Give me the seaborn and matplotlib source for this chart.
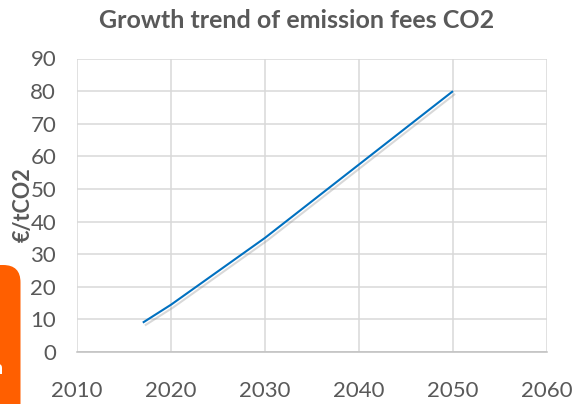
import matplotlib
matplotlib.use("Agg")
import matplotlib.pyplot as plt
import matplotlib.patheffects as pe
from matplotlib.patches import FancyBboxPatch
import pandas as pd
import seaborn as sns

# Emission fee trajectory (EUR per tonne CO2)
years = [2017, 2020, 2030, 2040, 2050]
fees = [9, 14.5, 35, 57.5, 80]

x_ticks = [2010, 2020, 2030, 2040, 2050, 2060]
y_ticks = [0, 10, 20, 30, 40, 50, 60, 70, 80, 90]

title = "Growth trend of emission fees CO2"
y_label = "€/tCO2"

sns.set_theme(style="white")
plt.rcParams["font.family"] = ["Lato", "DejaVu Sans"]

TEXT = "#595959"
GRID = "#D9D9D9"
LINE = "#0070C0"

df = pd.DataFrame({"year": years, "fee": fees})

fig = plt.figure(figsize=(5.77, 4.04), dpi=100)
ax = fig.add_axes([77 / 577, 1 - 352 / 404, (547 - 77) / 577, (352 - 58.5) / 404])

sns.lineplot(data=df, x="year", y="fee", ax=ax, color=LINE, linewidth=1.5,
             solid_capstyle="butt")
ax.lines[0].set_path_effects([
    pe.SimpleLineShadow(offset=(1.5, -2), shadow_color="#808080", alpha=0.3),
    pe.Normal(),
])

ax.set_xlim(2010, 2060)
ax.set_ylim(0, 90)
ax.set_xticks(x_ticks)
ax.set_yticks(y_ticks)
ax.grid(True, color=GRID, linewidth=1.1)
ax.set_axisbelow(True)
for side in ("left", "right", "top"):
    ax.spines[side].set_visible(False)
ax.spines["bottom"].set_color("#BFBFBF")
ax.spines["bottom"].set_linewidth(1.1)

ax.tick_params(axis="both", length=0, labelsize=16, labelcolor=TEXT)
ax.tick_params(axis="x", pad=21)
ax.tick_params(axis="y", pad=15)
ax.set_xlabel("")
ax.set_ylabel("")

fig.text(23 / 577, 1 - 205 / 404, y_label, rotation=90, ha="center", va="center",
         fontsize=15.5, fontweight="bold", color=TEXT)
fig.text(297 / 577, 1 - 21 / 404, title, ha="center", va="center",
         fontsize=18, fontweight="bold", color=TEXT)

# Orange side tab at the lower left edge
tab = FancyBboxPatch((-20 / 577, -20 / 404), 40.5 / 577, (404 - 265 + 20) / 404,
                     boxstyle="round,pad=0,rounding_size=0.03",
                     transform=fig.transFigure, facecolor="#FF5F00",
                     edgecolor="none", mutation_aspect=577 / 404)
fig.patches.append(tab)
fig.text(-8 / 577, 1 - 368 / 404, "n", ha="left", va="center", fontsize=14,
         fontweight="bold", color="white")

fig.savefig("out.png", dpi=100)
